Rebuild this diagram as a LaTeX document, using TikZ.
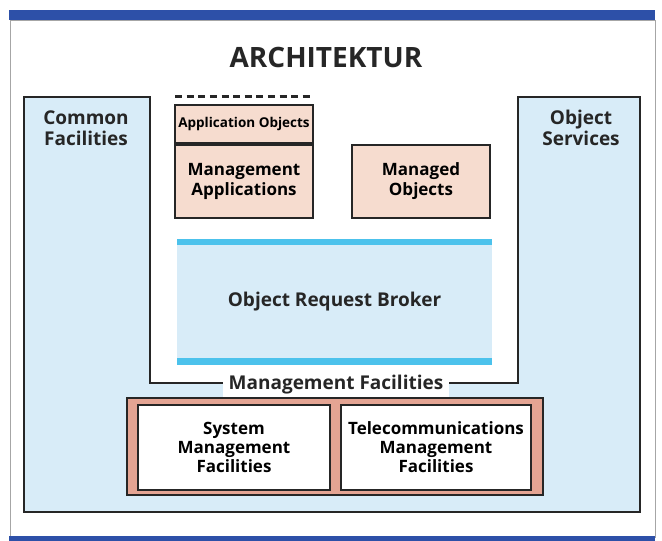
\documentclass[tikz,border=0pt]{standalone}
\usepackage{fontspec}
\setmainfont{Open Sans}
\usepackage{xcolor}
\usetikzlibrary{positioning}

\definecolor{paleblue}{HTML}{D8ECF8}
\definecolor{orbblue}{HTML}{4CC2EC}
\definecolor{barblue}{HTML}{2D50A8}
\definecolor{palesalmon}{HTML}{F6DCCF}
\definecolor{salmon}{HTML}{E4A493}

\begin{document}
\begin{tikzpicture}[x=1pt, y=-1pt,
          label/.style={align=center, text=black!85, font=\bfseries\fontsize{19}{21}\selectfont},
          mobox/.style={draw=black!85, line width=1.8pt, fill=palesalmon, minimum width=138pt, align=center, inner sep=0pt, font=\bfseries\fontsize{17}{20}\selectfont},
          facbox/.style={draw=black!85, line width=1.5pt, fill=white, minimum height=85pt, align=center, inner sep=0pt, font=\bfseries\fontsize{17}{19}\selectfont},
          bar/.style={fill=orbblue}
      ]
      \useasboundingbox (0,0) rectangle (662,541);

      % Frame
      \draw[black!35, line width=0.8pt] (10,20) rectangle (655,537);
      \fill[barblue] (9,10) rectangle (655,20);
      \fill[barblue] (9,536) rectangle (655,541);
      \node[font=\bfseries\fontsize{28}{30}\selectfont, text=black!85] (title) at (326,57) {ARCHITEKTUR};

      % Facilities and services
      \draw[draw=black!85, line width=1.8pt, fill=paleblue]
        (24,97) -- (150,97) -- (150,383) -- (518,383) -- (518,97) -- (640,97) -- (640,512) -- (24,512) -- cycle;
      \node[label] (common) at (86,128) {Common\\Facilities};
      \node[label] (services) at (581,128) {Object\\Services};

      % Objects
      \node[mobox, minimum height=38pt, font=\bfseries\fontsize{13.5}{15}\selectfont] (appobj) at (244,124) {Application Objects};
      \node[mobox, minimum height=73pt] (mgmtapp) at (244,181.5) {Management\\Applications};
      \node[mobox, minimum height=73pt] (managed) at (421,181.5) {Managed\\Objects};
      \draw[black!85, line width=3pt, dash pattern=on 7pt off 4.6pt] ([xshift=1pt, yshift=8pt]appobj.north west) -- ([yshift=8pt]appobj.north east);

      % Broker
      \node[fill=paleblue, minimum width=315pt, minimum height=125pt, inner sep=0pt, label] (orb) at (334.5,302) {Object Request Broker};
      \fill[bar] (orb.north west) rectangle ([yshift=-6pt]orb.north east);
      \fill[bar] ([yshift=7pt]orb.south west) rectangle (orb.south east);

      % Management facilities
      \node[label, fill=white, inner xsep=6pt, inner ysep=0pt, minimum height=25pt] (mgmtlabel) at (336,384.5) {Management Facilities};
      \node[draw=black!85, line width=1.5pt, fill=salmon, minimum width=416pt, minimum height=97pt] (mgmtfac) at (335,446.5) {};
      \node[facbox, minimum width=192pt] (sysmgmt) at (234,447.5) {System\\Management\\Facilities};
      \node[facbox, minimum width=190pt] (telmgmt) at (436,447.5) {Telecommunications\\Management\\Facilities};

\end{tikzpicture}
\end{document}
